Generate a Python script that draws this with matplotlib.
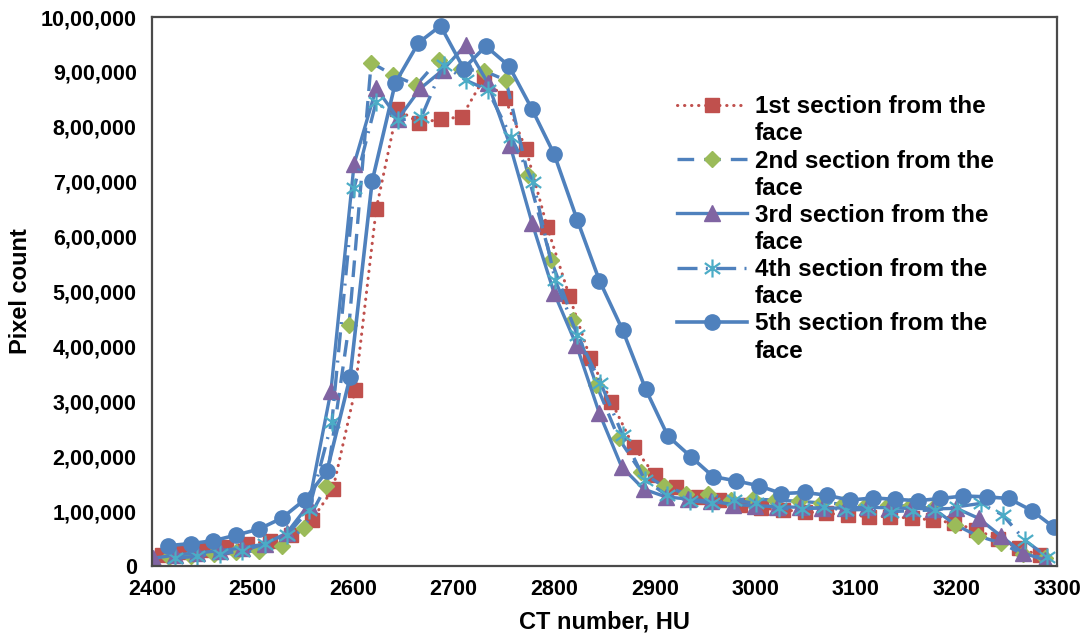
import matplotlib
matplotlib.use("Agg")
import matplotlib.pyplot as plt
from matplotlib.lines import Line2D
from matplotlib.path import Path

plt.rcParams["font.family"] = ["Liberation Sans", "DejaVu Sans"]
plt.rcParams["font.weight"] = "bold"

# CT number (HU) bins for each section
x1 = [2410, 2431, 2453, 2474, 2495, 2517, 2538, 2559, 2580, 2602, 2623, 2644,
      2666, 2687, 2708, 2730, 2751, 2772, 2793, 2815, 2836, 2857, 2879, 2900,
      2921, 2943, 2964, 2985, 3006, 3028, 3049, 3070, 3092, 3113, 3134, 3156,
      3177, 3198, 3219, 3241, 3262, 3283]
y1 = [20000, 26000, 29000, 35000, 41000, 45000, 57000, 84000, 140000, 320000,
      650000, 832000, 807000, 814000, 818000, 888000, 852000, 759000, 618000, 492000,
      378000, 299000, 217000, 166000, 144000, 126000, 120000, 111000, 105000, 102000,
      99000, 96000, 93000, 90000, 90000, 87000, 84000, 78000, 66000, 50000,
      32000, 20000]

x2 = [2417, 2439, 2462, 2484, 2506, 2529, 2551, 2573, 2596, 2618, 2640, 2663,
      2685, 2707, 2730, 2752, 2774, 2797, 2819, 2842, 2864, 2886, 2909, 2931,
      2953, 2976, 2998, 3020, 3043, 3065, 3087, 3110, 3132, 3154, 3177, 3199,
      3221, 3244, 3266, 3288]
y2 = [17000, 19000, 22000, 25000, 28000, 37000, 69000, 145000, 439000, 917000,
      894000, 876000, 922000, 905000, 902000, 885000, 712000, 557000, 448000, 330000,
      233000, 172000, 145000, 132000, 132000, 120000, 122000, 120000, 118000, 115000,
      113000, 111000, 111000, 109000, 105000, 75000, 55000, 42000, 22000, 15000]

x3 = [2401, 2423, 2445, 2468, 2490, 2512, 2534, 2556, 2578, 2601, 2623, 2645,
      2667, 2689, 2712, 2734, 2756, 2778, 2800, 2822, 2845, 2867, 2889, 2911,
      2933, 2956, 2978, 3000, 3022, 3044, 3066, 3089, 3111, 3133, 3155, 3177,
      3200, 3222, 3244, 3266, 3288]
y3 = [14000, 20000, 24000, 28000, 33000, 40000, 60000, 112000, 319000, 732000,
      870000, 815000, 870000, 903000, 949000, 880000, 767000, 625000, 497000, 403000,
      278000, 181000, 140000, 126000, 122000, 118000, 112000, 110000, 108000, 107000,
      105000, 106000, 107000, 106000, 105000, 104000, 105000, 87000, 55000, 24000,
      11000]

x4 = [2423, 2445, 2468, 2490, 2512, 2534, 2556, 2579, 2601, 2623, 2645, 2668,
      2690, 2712, 2734, 2757, 2779, 2801, 2823, 2846, 2868, 2890, 2912, 2935,
      2957, 2979, 3001, 3024, 3046, 3068, 3090, 3112, 3135, 3157, 3179, 3201,
      3224, 3246, 3268, 3290]
y4 = [14000, 18000, 22000, 28000, 40000, 56000, 102000, 263000, 688000, 846000,
      812000, 818000, 913000, 885000, 867000, 782000, 700000, 521000, 421000, 334000,
      239000, 157000, 129000, 119000, 115000, 120000, 114000, 105000, 103000, 107000,
      102000, 103000, 99000, 101000, 102000, 108000, 114000, 93000, 47000, 17000]

x5 = [2416, 2439, 2461, 2484, 2506, 2529, 2552, 2574, 2597, 2619, 2642, 2665,
      2687, 2710, 2732, 2755, 2778, 2800, 2823, 2845, 2868, 2891, 2913, 2936,
      2958, 2981, 3004, 3026, 3049, 3071, 3094, 3117, 3139, 3162, 3184, 3207,
      3230, 3252, 3275, 3297]
y5 = [37000, 41000, 46000, 56500, 67000, 87000, 121000, 173000, 344000, 701000,
      880000, 953000, 984000, 906000, 947000, 911000, 832000, 750000, 630000, 520000,
      430000, 322000, 237000, 199000, 163000, 155000, 146000, 132000, 134000, 129000,
      120000, 124000, 121500, 119000, 123000, 127500, 126000, 123000, 101000, 70500]

names = ["1st section from the", "2nd section from the", "3rd section from the",
         "4th section from the", "5th section from the"]

x_ticks = [2400, 2500, 2600, 2700, 2800, 2900, 3000, 3100, 3200, 3300]
y_ticks = [0, 100000, 200000, 300000, 400000, 500000, 600000, 700000, 800000, 900000, 1000000]
y_tick_labels = ["0", "1,00,000", "2,00,000", "3,00,000", "4,00,000", "5,00,000",
                 "6,00,000", "7,00,000", "8,00,000", "9,00,000", "10,00,000"]

blue = "#4F81BD"
red = "#C0504D"
green = "#9BBB59"
purple = "#8064A2"
cyan = "#4BACC6"

# asterisk-like star marker (vertical bar + X)
star = Path([(0, -1), (0, 1), (-0.85, -0.6), (0.85, 0.6), (-0.85, 0.6), (0.85, -0.6)],
            [Path.MOVETO, Path.LINETO] * 3)

fig = plt.figure(figsize=(10.9, 6.4), dpi=100)
ax = fig.add_axes([0.1394, 0.1156, 0.8303, 0.8578])

l1, = ax.plot(x1, y1, color=red, lw=2.2, linestyle=(0, (0.1, 2.2)),
              dash_capstyle="round", marker="s", ms=10, mfc=red, mec=red)
l2, = ax.plot(x2, y2, color=blue, lw=2.4, linestyle=(0, (5, 3)),
              marker="D", ms=8.5, mfc=green, mec=green)
l3, = ax.plot(x3, y3, color=blue, lw=2.4, linestyle="-",
              marker="^", ms=11, mfc=purple, mec=purple)
l4, = ax.plot(x4, y4, color=blue, lw=2.4, linestyle=(0, (6, 2.5, 0.6, 2.5)),
              marker=star, ms=13, mfc="none", mec=cyan, mew=1.6)
l5, = ax.plot(x5, y5, color=blue, lw=2.6, linestyle="-",
              marker="o", ms=11, mfc=blue, mec=blue)

ax.set_xlim(2400, 3300)
ax.set_ylim(0, 1000000)
ax.set_xticks(x_ticks)
ax.set_xticklabels([str(v) for v in x_ticks])
ax.set_yticks(y_ticks)
ax.set_yticklabels(y_tick_labels)
ax.tick_params(axis="both", length=0, labelsize=15.5)
ax.tick_params(axis="y", pad=11)
ax.tick_params(axis="x", pad=9)
for lab in ax.get_xticklabels() + ax.get_yticklabels():
    lab.set_fontweight("bold")

for s in ax.spines.values():
    s.set_color("#4a4a4a")
    s.set_linewidth(1.6)

ax.set_xlabel("CT number, HU", fontsize=17, fontweight="bold", labelpad=8)
ax.set_ylabel("Pixel count", fontsize=17, fontweight="bold", labelpad=6)

blank = Line2D([], [], linestyle="none")
handles, labels = [], []
for h, n in zip([l1, l2, l3, l4, l5], names):
    handles += [h, blank]
    labels += [n, "face"]

ax.legend(handles, labels, loc="upper left", bbox_to_anchor=(0.621, 0.851),
          bbox_transform=fig.transFigure, frameon=False,
          prop={"weight": "bold", "size": 17.5}, handlelength=2.9,
          handletextpad=0.3, labelspacing=0.17, borderpad=0, borderaxespad=0)

fig.savefig("out.png", dpi=100)
